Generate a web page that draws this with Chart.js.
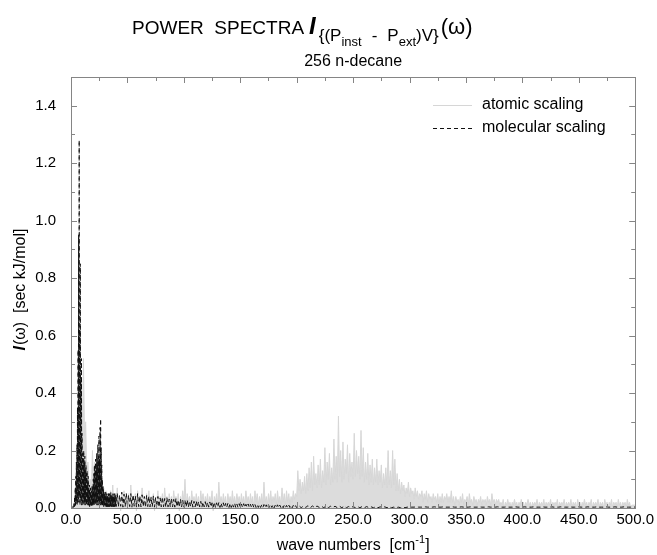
<!DOCTYPE html>
<html lang="en">
<head>
<meta charset="UTF-8">
<title>Power spectra - 256 n-decane</title>
<script src="https://cdn.jsdelivr.net/npm/chart.js"></script>
<style>
  html, body { margin: 0; padding: 0; background: #fff; }
  #box { position: relative; width: 657px; height: 555px; }
</style>
</head>
<body>
<div id="box"><canvas id="myChart"></canvas></div>
<script>
// tick labels / axes
const xTicks = [0, 50, 100, 150, 200, 250, 300, 350, 400, 450, 500];
const xMinor = [25, 75, 125, 175, 225, 275, 325, 375, 425, 475];
const yTicks = [0, 0.2, 0.4, 0.6, 0.8, 1.0, 1.2, 1.4];
const yMinor = [0.1, 0.3, 0.5, 0.7, 0.9, 1.1, 1.3];

const seriesNames = ['atomic scaling', 'molecular scaling'];

// atomic scaling, one value per cm-1 from 0 to 500
const atomicStart = 0, atomicStep = 1;
const atomic = [
  0.00, 0.00, 0.01, 0.02, 0.05, 0.12, 0.08, 0.30, 0.18, 0.40,
  0.22, 0.52, 0.25, 0.30, 0.10, 0.16, 0.06, 0.10, 0.05, 0.20,
  0.08, 0.16, 0.06, 0.14, 0.05, 0.12, 0.04, 0.10, 0.03, 0.07,
  0.02, 0.06, 0.02, 0.05, 0.01, 0.06, 0.02, 0.08, 0.01, 0.05,
  0.02, 0.07, 0.01, 0.04, -0.01, 0.05, 0.02, 0.06, 0.01, 0.04,
  0.02, 0.05, 0.00, 0.08, 0.02, 0.04, 0.01, 0.05, -0.01, 0.06,
  0.02, 0.04, 0.01, 0.07, 0.02, 0.03, 0.00, 0.05, 0.02, 0.06,
  0.01, 0.04, 0.02, 0.05, -0.01, 0.03, 0.02, 0.06, 0.01, 0.04,
  0.02, 0.05, 0.01, 0.07, 0.02, 0.04, 0.00, 0.05, 0.02, 0.04,
  0.01, 0.06, 0.02, 0.04, 0.01, 0.05, -0.01, 0.04, 0.02, 0.06,
  0.02, 0.10, 0.01, 0.05, 0.02, 0.04, 0.01, 0.06, 0.02, 0.04,
  0.01, 0.05, 0.02, 0.04, 0.00, 0.06, 0.02, 0.05, 0.01, 0.04,
  0.02, 0.05, 0.01, 0.04, 0.02, 0.06, -0.01, 0.04, 0.02, 0.05,
  0.01, 0.09, 0.02, 0.04, 0.01, 0.05, 0.02, 0.04, 0.00, 0.05,
  0.02, 0.04, 0.01, 0.06, 0.02, 0.04, 0.01, 0.05, 0.02, 0.04,
  0.01, 0.05, 0.02, 0.04, 0.01, 0.06, 0.02, 0.04, 0.01, 0.05,
  0.02, 0.04, 0.00, 0.06, 0.02, 0.05, 0.01, 0.04, 0.02, 0.05,
  0.01, 0.09, 0.02, 0.04, 0.01, 0.05, 0.02, 0.06, 0.01, 0.04,
  0.02, 0.05, 0.01, 0.06, 0.02, 0.04, 0.01, 0.07, 0.02, 0.05,
  0.01, 0.06, 0.02, 0.05, 0.01, 0.04, 0.02, 0.06, 0.03, 0.05,
  0.04, 0.13, 0.06, 0.10, 0.05, 0.09, 0.06, 0.11, 0.05, 0.12,
  0.06, 0.14, 0.07, 0.16, 0.06, 0.18, 0.08, 0.12, 0.07, 0.15,
  0.08, 0.17, 0.07, 0.13, 0.09, 0.21, 0.08, 0.16, 0.10, 0.19,
  0.08, 0.14, 0.09, 0.24, 0.10, 0.18, 0.09, 0.32, 0.11, 0.20,
  0.09, 0.23, 0.10, 0.17, 0.12, 0.22, 0.09, 0.19, 0.11, 0.16,
  0.10, 0.26, 0.11, 0.20, 0.12, 0.18, 0.10, 0.27, 0.11, 0.21,
  0.09, 0.16, 0.10, 0.19, 0.08, 0.15, 0.09, 0.17, 0.08, 0.14,
  0.09, 0.17, 0.08, 0.13, 0.09, 0.15, 0.07, 0.12, 0.08, 0.14,
  0.07, 0.20, 0.08, 0.13, 0.07, 0.20, 0.08, 0.17, 0.06, 0.12,
  0.06, 0.10, 0.05, 0.09, 0.06, 0.08, 0.04, 0.07, 0.05, 0.09,
  0.04, 0.07, 0.05, 0.06, 0.03, 0.07, 0.04, 0.06, 0.03, 0.05,
  0.04, 0.06, 0.02, 0.05, 0.03, 0.06, 0.02, 0.05, 0.03, 0.04,
  0.02, 0.05, 0.03, 0.04, 0.02, 0.05, 0.01, 0.04, 0.02, 0.05,
  0.02, 0.04, 0.03, 0.05, 0.02, 0.04, 0.02, 0.06, 0.02, 0.04,
  0.01, 0.04, 0.02, 0.03, 0.01, 0.04, 0.02, 0.05, 0.01, 0.03,
  0.02, 0.04, 0.01, 0.05, 0.02, 0.03, 0.01, 0.04, 0.02, 0.03,
  0.01, 0.03, 0.02, 0.04, 0.01, 0.03, 0.02, 0.03, 0.01, 0.04,
  0.02, 0.03, 0.01, 0.05, 0.02, 0.03, 0.01, 0.03, 0.02, 0.03,
  0.01, 0.02, 0.01, 0.03, 0.00, 0.02, 0.01, 0.03, 0.01, 0.02,
  0.00, 0.02, 0.01, 0.03, 0.01, 0.02, 0.00, 0.02, 0.01, 0.03,
  0.01, 0.02, 0.00, 0.02, 0.01, 0.03, 0.01, 0.02, 0.00, 0.02,
  0.01, 0.02, 0.01, 0.03, 0.00, 0.02, 0.01, 0.02, 0.01, 0.03,
  0.00, 0.02, 0.01, 0.02, 0.01, 0.03, 0.00, 0.02, 0.01, 0.02,
  0.01, 0.03, 0.00, 0.02, 0.01, 0.02, 0.01, 0.03, 0.00, 0.02,
  0.01, 0.02, 0.01, 0.03, 0.00, 0.02, 0.01, 0.02, 0.00, 0.03,
  0.01, 0.02, 0.00, 0.02, 0.01, 0.03, 0.01, 0.02, 0.00, 0.02,
  0.01, 0.03, 0.00, 0.02, 0.01, 0.02, 0.01, 0.03, 0.00, 0.02,
  0.01, 0.02, 0.00, 0.03, 0.01, 0.02, 0.00, 0.02, 0.01, 0.03,
  0.00, 0.02, 0.01, 0.02, 0.00, 0.03, 0.01, 0.02, 0.00, 0.02,
  0.01, 0.02, 0.00, 0.03, 0.01, 0.02, 0.00, 0.01, 0.01, 0.01,
  0.01
];

// molecular scaling: quarter steps over the low frequency peaks (0..40)
const molHeadStart = 0, molHeadStep = 0.25;
const molecularHead = [
  0.000, 0.000, 0.001, 0.002, 0.002, 0.003, 0.004, 0.005,
  0.002, 0.010, 0.004, 0.020, 0.005, 0.040, 0.008, 0.070,
  0.010, 0.110, 0.015, 0.160, 0.020, 0.220, 0.010, 0.350,
  0.020, 0.550, 0.030, 0.950, 0.020, 1.280, 0.040, 0.620,
  0.010, 0.850, 0.030, 0.450, 0.020, 0.520, 0.010, 0.260,
  0.020, 0.190, 0.010, 0.170, 0.030, 0.200, 0.010, 0.160,
  0.020, 0.180, 0.010, 0.130, 0.020, 0.150, 0.010, 0.120,
  0.010, 0.130, 0.020, 0.090, 0.010, 0.110, 0.010, 0.070,
  0.010, 0.080, 0.005, 0.060, 0.010, 0.070, 0.005, 0.050,
  0.010, 0.060, 0.005, 0.080, 0.010, 0.070, 0.010, 0.100,
  0.010, 0.120, 0.020, 0.150, 0.010, 0.130, 0.020, 0.170,
  0.010, 0.140, 0.020, 0.190, 0.010, 0.160, 0.020, 0.220,
  0.010, 0.180, 0.020, 0.250, 0.010, 0.170, 0.020, 0.280,
  0.010, 0.310, 0.020, 0.210, 0.010, 0.150, 0.010, 0.100,
  0.005, 0.080, 0.010, 0.065, 0.005, 0.055, 0.010, 0.050,
  0.005, 0.050, 0.010, 0.055, 0.005, 0.045, 0.005, 0.050,
  0.005, 0.045, 0.005, 0.040, 0.005, 0.050, 0.005, 0.045,
  0.005, 0.050, 0.005, 0.040, 0.005, 0.055, 0.005, 0.045,
  0.005, 0.045, 0.005, 0.040, 0.005, 0.050, 0.005, 0.040,
  0.005, 0.045, 0.005, 0.050, 0.005, 0.040, 0.005, 0.045,
  0.005
];
// one value per cm-1 from 41 to 200
const molMidStart = 41, molMidStep = 1;
const molecularMid = [
  0.050, 0.004, 0.045, 0.006, 0.055, 0.003, 0.048, 0.005, 0.052, 0.004,
  0.045, 0.005, 0.050, 0.003, 0.046, 0.006, 0.042, 0.003, 0.050, 0.005,
  0.042, 0.004, 0.046, 0.005, 0.040, 0.003, 0.044, 0.005, 0.041, 0.004,
  0.038, 0.004, 0.042, 0.003, 0.036, 0.005, 0.040, 0.003, 0.035, 0.004,
  0.038, 0.004, 0.033, 0.003, 0.036, 0.004, 0.031, 0.003, 0.034, 0.004,
  0.030, 0.003, 0.033, 0.004, 0.028, 0.003, 0.031, 0.004, 0.027, 0.003,
  0.026, 0.004, 0.028, 0.003, 0.024, 0.005, 0.026, 0.003, 0.023, 0.004,
  0.024, 0.003, 0.022, 0.004, 0.023, 0.003, 0.020, 0.004, 0.022, 0.003,
  0.020, 0.003, 0.021, 0.004, 0.018, 0.003, 0.020, 0.002, 0.018, 0.003,
  0.019, 0.002, 0.017, 0.003, 0.018, 0.002, 0.016, 0.003, 0.016, 0.002,
  0.016, 0.002, 0.015, 0.003, 0.016, 0.002, 0.014, 0.002, 0.015, 0.003,
  0.014, 0.002, 0.015, 0.002, 0.013, 0.003, 0.014, 0.002, 0.013, 0.002,
  0.013, 0.002, 0.012, 0.002, 0.011, 0.002, 0.012, 0.002, 0.011, 0.002,
  0.012, 0.002, 0.011, 0.001, 0.011, 0.002, 0.010, 0.002, 0.011, 0.001,
  0.010, 0.002, 0.011, 0.001, 0.010, 0.002, 0.009, 0.001, 0.010, 0.002,
  0.009, 0.001, 0.010, 0.002, 0.009, 0.001, 0.009, 0.002, 0.008, 0.001
];
// every 2 cm-1 from 202 to 500, almost flat
const molTailStart = 202, molTailStep = 2;
const molecularTail = [
  0.008, 0.001, 0.007, 0.002, 0.008, 0.001, 0.007, 0.001, 0.007, 0.002,
  0.006, 0.001, 0.007, 0.001, 0.006, 0.002, 0.006, 0.001, 0.006, 0.001,
  0.006, 0.001, 0.005, 0.002, 0.005, 0.001, 0.005, 0.001, 0.005, 0.001,
  0.005, 0.001, 0.004, 0.001, 0.004, 0.001, 0.004, 0.001, 0.004, 0.001,
  0.004, 0.001, 0.003, 0.001, 0.003, 0.001, 0.003, 0.001, 0.003, 0.002,
  0.003, 0.003, 0.004, 0.003, 0.003, 0.003, 0.004, 0.003, 0.003, 0.003,
  0.004, 0.003, 0.003, 0.003, 0.004, 0.003, 0.003, 0.003, 0.004, 0.003,
  0.003, 0.003, 0.004, 0.003, 0.003, 0.003, 0.004, 0.003, 0.003, 0.003,
  0.004, 0.003, 0.003, 0.003, 0.004, 0.003, 0.003, 0.003, 0.004, 0.003,
  0.003, 0.003, 0.004, 0.003, 0.003, 0.003, 0.004, 0.003, 0.003, 0.003,
  0.004, 0.003, 0.003, 0.003, 0.004, 0.003, 0.003, 0.003, 0.004, 0.003,
  0.003, 0.003, 0.004, 0.003, 0.003, 0.003, 0.004, 0.003, 0.003, 0.003,
  0.004, 0.003, 0.003, 0.003, 0.004, 0.003, 0.003, 0.003, 0.004, 0.003,
  0.003, 0.003, 0.004, 0.003, 0.003, 0.003, 0.004, 0.003, 0.003, 0.003,
  0.004, 0.003, 0.003, 0.003, 0.004, 0.003, 0.003, 0.003, 0.004, 0.003
];

const titleMain = 'POWER  SPECTRA';
const subtitle = '256 n-decane';
const xTitle = 'wave numbers  [cm';
const yTitle = '  [sec kJ/mol]';

const FONT = '"Liberation Sans", Arial, Helvetica, sans-serif';

function toPoints(start, step, values) {
  return values.map((v, i) => ({ x: start + i * step, y: v }));
}

const atomicPts = toPoints(atomicStart, atomicStep, atomic);
const molecularPts = toPoints(molHeadStart, molHeadStep, molecularHead)
  .concat(toPoints(molMidStart, molMidStep, molecularMid))
  .concat(toPoints(molTailStart, molTailStep, molecularTail));

// title, axis titles, legend, frame and the inward ticks
const decorations = {
  id: 'decorations',
  afterDatasetsDraw(chart) {
    const ctx = chart.ctx;
    const a = chart.chartArea;
    const xs = chart.scales.x, ys = chart.scales.y;
    ctx.save();

    // frame
    ctx.strokeStyle = '#858585';
    ctx.lineWidth = 1;
    ctx.strokeRect(Math.round(a.left) + 0.5, Math.round(a.top) + 0.5,
      Math.round(a.right - a.left), Math.round(a.bottom - a.top));

    ctx.beginPath();
    const tickX = (v, len) => {
      const px = Math.round(xs.getPixelForValue(v)) + 0.5;
      ctx.moveTo(px, a.bottom); ctx.lineTo(px, a.bottom - len);
      ctx.moveTo(px, a.top); ctx.lineTo(px, a.top + len);
    };
    const tickY = (v, len) => {
      const py = Math.round(ys.getPixelForValue(v)) + 0.5;
      ctx.moveTo(a.left, py); ctx.lineTo(a.left + len, py);
      ctx.moveTo(a.right, py); ctx.lineTo(a.right - len, py);
    };
    xTicks.forEach(v => tickX(v, 6));
    xMinor.forEach(v => tickX(v, 4));
    yTicks.forEach(v => tickY(v, 6));
    yMinor.forEach(v => tickY(v, 4));
    ctx.stroke();

    ctx.fillStyle = '#000';
    ctx.textBaseline = 'alphabetic';
    ctx.textAlign = 'left';

    // main title with the sub/sub-sub scripts
    let x = 132;
    const base = 34;
    const seg = (txt, font, dy, gap) => {
      ctx.font = font;
      ctx.fillText(txt, x, base + dy);
      x += ctx.measureText(txt).width + (gap || 0);
    };
    seg(titleMain, '19px ' + FONT, 0, 5);
    seg('I', 'italic bold 24px ' + FONT, 0, 3);
    seg('{(P', '17px ' + FONT, 7);
    seg('inst', '13px ' + FONT, 12, 10);
    seg('-', '17px ' + FONT, 7, 10);
    seg('P', '17px ' + FONT, 7);
    seg('ext', '13px ' + FONT, 12);
    seg(')V}', '17px ' + FONT, 7, 2);
    seg('(\u03c9)', '22px ' + FONT, 0);

    ctx.font = '16px ' + FONT;
    ctx.textAlign = 'center';
    ctx.fillText(subtitle, (a.left + a.right) / 2, 66);

    // x axis title with superscript
    ctx.textAlign = 'left';
    ctx.font = '16px ' + FONT;
    const w1 = ctx.measureText(xTitle).width;
    ctx.font = '11px ' + FONT;
    const w2 = ctx.measureText('-1').width;
    ctx.font = '16px ' + FONT;
    const w3 = ctx.measureText(']').width;
    let tx = (a.left + a.right) / 2 - (w1 + w2 + w3) / 2;
    ctx.fillText(xTitle, tx, 550);
    ctx.font = '11px ' + FONT;
    ctx.fillText('-1', tx + w1, 543);
    ctx.font = '16px ' + FONT;
    ctx.fillText(']', tx + w1 + w2, 550);

    // y axis title, rotated
    ctx.save();
    ctx.translate(25, 290);
    ctx.rotate(-Math.PI / 2);
    ctx.font = 'italic bold 16px ' + FONT;
    const wI = ctx.measureText('I').width;
    ctx.font = '16px ' + FONT;
    const wO = ctx.measureText('(\u03c9)').width;
    const wT = ctx.measureText(yTitle).width;
    let ty = -(wI + wO + wT) / 2;
    ctx.font = 'italic bold 16px ' + FONT;
    ctx.fillText('I', ty, 0);
    ctx.font = '16px ' + FONT;
    ctx.fillText('(\u03c9)', ty + wI + 1, 0);
    ctx.fillText(yTitle, ty + wI + 1 + wO, 0);
    ctx.restore();

    // legend in the top right corner of the plot
    const ds = chart.data.datasets;
    const rows = [105, 128];
    ds.forEach((d, i) => {
      ctx.beginPath();
      ctx.strokeStyle = d.borderColor;
      ctx.lineWidth = 1;
      ctx.setLineDash(d.borderDash || []);
      ctx.moveTo(433, rows[i] + 0.5);
      ctx.lineTo(472, rows[i] + 0.5);
      ctx.stroke();
      ctx.setLineDash([]);
      ctx.font = '16px ' + FONT;
      ctx.textBaseline = 'middle';
      ctx.fillStyle = '#000';
      ctx.fillText(d.label, 482, rows[i]);
    });

    ctx.restore();
  }
};

new Chart(document.getElementById('myChart'), {
  type: 'line',
  data: {
    datasets: [{
      label: seriesNames[0],
      data: atomicPts,
      borderColor: '#d6d6d6',
      backgroundColor: '#dcdcdc',
      borderWidth: 1,
      fill: 'origin',
      pointRadius: 0,
      tension: 0,
      clip: false,
      order: 1
    }, {
      label: seriesNames[1],
      data: molecularPts,
      borderColor: '#111111',
      borderDash: [4, 3],
      borderWidth: 1,
      fill: false,
      pointRadius: 0,
      tension: 0,
      order: 0
    }]
  },
  options: {
    responsive: true,
    maintainAspectRatio: false,
    animation: false,
    devicePixelRatio: 1,
    layout: { padding: { top: 77, right: 21, left: 0, bottom: 0 } },
    plugins: { legend: { display: false }, tooltip: { enabled: false } },
    scales: {
      x: {
        type: 'linear',
        min: 0,
        max: 500,
        afterBuildTicks: s => { s.ticks = xTicks.map(v => ({ value: v })); },
        afterFit: s => { s.height = 47; },
        grid: { display: false, drawTicks: false },
        border: { display: false },
        ticks: {
          padding: 3,
          color: '#000',
          font: { family: FONT, size: 15 },
          maxRotation: 0,
          callback: v => v.toFixed(1)
        }
      },
      y: {
        min: 0,
        max: 1.5,
        afterBuildTicks: s => { s.ticks = yTicks.map(v => ({ value: v })); },
        afterFit: s => { s.width = 71; },
        grid: { display: false, drawTicks: false },
        border: { display: false },
        ticks: {
          padding: 15,
          color: '#000',
          font: { family: FONT, size: 15 },
          callback: v => v.toFixed(1)
        }
      }
    }
  },
  plugins: [decorations]
});
</script>
</body>
</html>
